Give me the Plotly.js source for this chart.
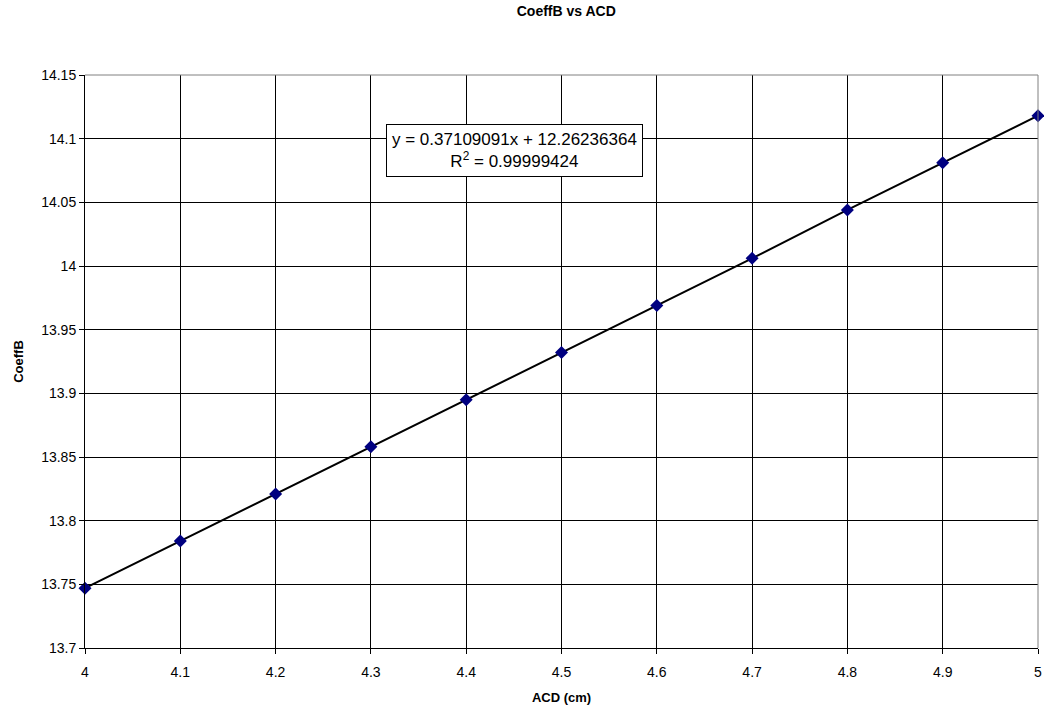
<!DOCTYPE html>
<html>
<head>
<meta charset="utf-8">
<script src="https://cdn.plot.ly/plotly-3.0.1.min.js"></script>
<style>html,body{margin:0;padding:0;background:#fff;}#chart{width:1044px;height:712px;}</style>
</head>
<body>
<div id="chart"></div>
<script>
const acd = [4, 4.1, 4.2, 4.3, 4.4, 4.5, 4.6, 4.7, 4.8, 4.9, 5];
const coeffB = [13.747, 13.784, 13.821, 13.858, 13.895, 13.932, 13.969, 14.006, 14.044, 14.081, 14.118];
const equationText = "y = 0.37109091x + 12.26236364";
const r2Text = "R<sup>2</sup> = 0.99999424";
const xTickVals = [4, 4.1, 4.2, 4.3, 4.4, 4.5, 4.6, 4.7, 4.8, 4.9, 5];
const yTickVals = [13.7, 13.75, 13.8, 13.85, 13.9, 13.95, 14, 14.05, 14.1, 14.15];

const font = "Liberation Sans, Arial, sans-serif";

const traces = [
  {
    x: acd, y: coeffB, type: 'scatter', mode: 'lines',
    line: {color: '#000000', width: 2}, hoverinfo: 'skip', showlegend: false
  },
  {
    x: acd, y: coeffB, type: 'scatter', mode: 'markers',
    marker: {symbol: 'diamond', size: 10, color: '#000080', line: {width: 0}},
    cliponaxis: false, showlegend: false
  }
];

const layout = {
  width: 1044, height: 712,
  margin: {l: 85, r: 6, t: 75, b: 64},
  paper_bgcolor: '#ffffff', plot_bgcolor: '#ffffff',
  font: {family: font, size: 14, color: '#000'},
  showlegend: false,
  title: {text: '<b>CoeffB vs ACD</b>', font: {family: font, size: 14, color: '#000'},
          x: 0.505, xref: 'paper', y: 0.984, yref: 'container', xanchor: 'center', yanchor: 'middle'},
  xaxis: {
    range: [4, 5], tickvals: xTickVals, ticktext: xTickVals.map(String),
    showgrid: true, gridcolor: '#000000', gridwidth: 1,
    showline: true, linecolor: '#000000', linewidth: 1,
    ticks: 'outside', ticklen: 5, tickcolor: '#000', zeroline: false,
    ticklabelstandoff: 6,
    tickfont: {family: font, size: 14, color: '#000'},
    title: {text: '<b>ACD (cm)</b>', font: {family: font, size: 13, color: '#000'}, standoff: 14}
  },
  yaxis: {
    range: [13.7, 14.15], tickvals: yTickVals, ticktext: yTickVals.map(v => String(v)),
    showgrid: true, gridcolor: '#000000', gridwidth: 1,
    showline: true, linecolor: '#000000', linewidth: 1,
    ticks: 'outside', ticklen: 5, tickcolor: '#000', zeroline: false,
    tickfont: {family: font, size: 14, color: '#000'},
    title: {text: '<b>CoeffB</b>', font: {family: font, size: 13, color: '#000'}, standoff: 14}
  },
  shapes: [
    {type: 'line', xref: 'paper', yref: 'paper', x0: 0, x1: 1, y0: 1, y1: 1, line: {color: '#808080', width: 1}, layer: 'above'},
    {type: 'line', xref: 'paper', yref: 'paper', x0: 1, x1: 1, y0: 0, y1: 1, line: {color: '#808080', width: 1}, layer: 'above'}
  ],
  annotations: [{
    xref: 'paper', yref: 'paper', x: 0.451, y: 0.868, xanchor: 'center', yanchor: 'middle',
    text: equationText + '<br>' + r2Text, showarrow: false, align: 'center',
    bgcolor: '#ffffff', bordercolor: '#000000', borderwidth: 1, borderpad: 5,
    font: {family: font, size: 17, color: '#000'}
  }]
};

Plotly.newPlot('chart', traces, layout, {displayModeBar: false, staticPlot: true});
</script>
</body>
</html>
